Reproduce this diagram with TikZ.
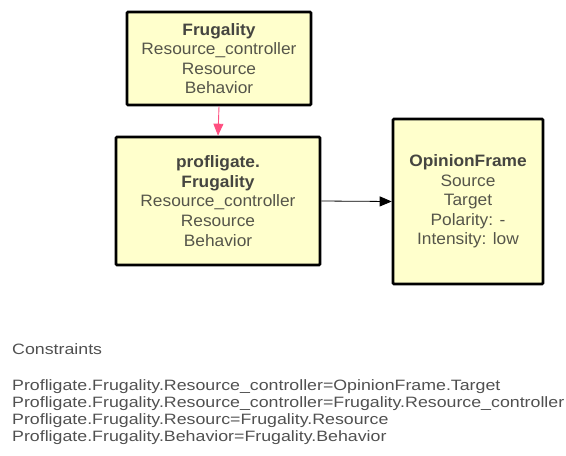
\documentclass[tikz,border=0pt]{standalone}
\usepackage{fontspec}
\setmainfont{Liberation Sans}
\newfontfamily\boxfont[FakeStretch=1.05]{Liberation Sans}
\newfontfamily\consfont[FakeStretch=1.185]{Liberation Sans}
\usetikzlibrary{arrows.meta}
\definecolor{framefill}{HTML}{FFFFCC}
\definecolor{slottext}{HTML}{55554A}
\definecolor{titletext}{HTML}{454540}
\definecolor{constext}{HTML}{505050}
\definecolor{inherit}{HTML}{FF4F80}
\tikzset{
  framebox/.style={draw=black, line width=2.6pt, fill=framefill, rounded corners=1pt,
    align=center, inner sep=0pt, text=slottext,
    font=\boxfont\fontsize{16.5}{19.6}\selectfont},
  isa/.style={draw=inherit, line width=0.9pt, -{Triangle[length=12pt,width=10pt]}},
  relates/.style={draw=black, line width=0.8pt, -{Triangle[length=12pt,width=10pt]}},
  constline/.style={anchor=base west, inner sep=0pt, text=constext,
    font=\consfont\fontsize{15}{17}\selectfont}
}
\begin{document}
\begin{tikzpicture}[x=1pt, y=-1pt]
\useasboundingbox (0,0) rectangle (566,456);

\node[framebox, minimum width=184pt, minimum height=93pt] (frug) at (219,58.5)
  {{\color{titletext}\bfseries Frugality}\\Resource\_controller\\Resource\\Behavior};
\node[framebox, minimum width=204pt, minimum height=128pt] (prof) at (218,201)
  {{\color{titletext}\bfseries profligate.}\\{\color{titletext}\bfseries Frugality}\\Resource\_controller\\Resource\\Behavior};
\node[framebox, minimum width=150pt, minimum height=165pt] (opin) at (468,201.5)
  {{\color{titletext}\bfseries OpinionFrame}\\Source\\Target\\Polarity: -\\Intensity: low};

\draw[isa] (frug.south) -- (prof.north);
\draw[relates] (prof.east) -- (opin.west);

\node[constline] (ctitle) at (12,354) {Constraints};
\node[constline] (c1) at (12,390) {Profligate.Frugality.Resource\_controller=OpinionFrame.Target};
\node[constline] (c2) at (12,407) {Profligate.Frugality.Resource\_controller=Frugality.Resource\_controller};
\node[constline] (c3) at (12,424) {Profligate.Frugality.Resourc=Frugality.Resource};
\node[constline] (c4) at (12,441) {Profligate.Frugality.Behavior=Frugality.Behavior};
\end{tikzpicture}
\end{document}
